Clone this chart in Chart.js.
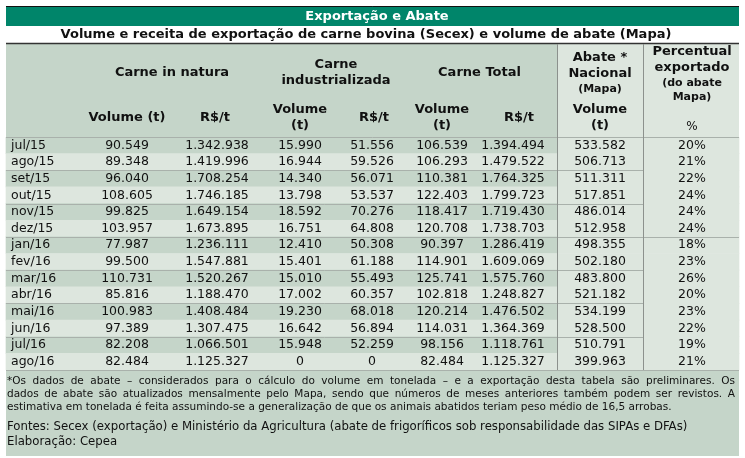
<!DOCTYPE html>
<html>
<head>
<meta charset="utf-8">
<script src="https://cdn.jsdelivr.net/npm/chart.js@4"></script>
<style>
  body { margin: 0; background: #fff; }
  #wrap { width: 745px; height: 458px; position: relative; }
</style>
</head>
<body>
<div id="wrap"><canvas id="tabela"></canvas></div>
<script>
// dados da tabela (Secex / Mapa)
const months = ["jul/15", "ago/15", "set/15", "out/15", "nov/15", "dez/15", "jan/16",
    "fev/16", "mar/16", "abr/16", "mai/16", "jun/16", "jul/16", "ago/16"];
const naturaVol = [90549, 89348, 96040, 108605, 99825, 103957, 77987, 99500, 110731, 85816, 100983, 97389, 82208, 82484];
const naturaRs = [1342938, 1419996, 1708254, 1746185, 1649154, 1673895, 1236111, 1547881, 1520267, 1188470, 1408484, 1307475, 1066501, 1125327];
const indVol = [15990, 16944, 14340, 13798, 18592, 16751, 12410, 15401, 15010, 17002, 19230, 16642, 15948, 0];
const indRs = [51556, 59526, 56071, 53537, 70276, 64808, 50308, 61188, 55493, 60357, 68018, 56894, 52259, 0];
const totalVol = [106539, 106293, 110381, 122403, 118417, 120708, 90397, 114901, 125741, 102818, 120214, 114031, 98156, 82484];
const totalRs = [1394494, 1479522, 1764325, 1799723, 1719430, 1738703, 1286419, 1609069, 1575760, 1248827, 1476502, 1364369, 1118761, 1125327];
const abateVol = [533582, 506713, 511311, 517851, 486014, 512958, 498355, 502180, 483800, 521182, 534199, 528500, 510791, 399963];
const pctExport = [20, 21, 22, 24, 24, 24, 18, 23, 26, 20, 23, 22, 19, 21];

const footNotes = [
    "*Os dados de abate \u2013 considerados para o cálculo do volume em tonelada \u2013 e a exportação desta tabela são preliminares. Os",
    "dados de abate são atualizados mensalmente pelo Mapa, sendo que números de meses anteriores também podem ser revistos.  A",
    "estimativa em tonelada é feita assumindo-se a generalização de que os animais abatidos teriam peso médio de 16,5 arrobas."
];
const sources = ["Fontes: Secex (exportação) e Ministério da Agricultura (abate de frigoríficos sob responsabilidade das SIPAs e DFAs)",
    "Elaboração: Cepea"];

// layout
const FONT = "'DejaVu Sans', Verdana, sans-serif";
const tableL = 6, tableR = 739, splitA = 557, splitB = 643;
const colX = [127, 217, 300, 372, 442, 513, 600, 692];
const dark = "#c5d5c9", light = "#dde6de", green = "#00856a";

function fmt(n) {
    return String(n).replace(/\B(?=(\d{3})+(?!\d))/g, ".");
}

function txt(ctx, s, x, y, font, color, align) {
    ctx.font = font;
    ctx.fillStyle = color || "#111";
    ctx.textAlign = align || "center";
    ctx.textBaseline = "middle";
    ctx.fillText(s, x, y);
}

// left-to-right justified line
function justify(ctx, s, x, y, width, font) {
    ctx.font = font;
    ctx.fillStyle = "#111";
    ctx.textAlign = "left";
    ctx.textBaseline = "middle";
    const words = s.split(/\s+/);
    const total = words.reduce((a, w) => a + ctx.measureText(w).width, 0);
    const gap = (width - total) / (words.length - 1);
    let px = x;
    words.forEach(w => {
        ctx.fillText(w, px, y);
        px += ctx.measureText(w).width + gap;
    });
}

function hline(ctx, x1, x2, y, color, w) {
    ctx.strokeStyle = color;
    ctx.lineWidth = w || 1;
    ctx.beginPath();
    ctx.moveTo(x1, y);
    ctx.lineTo(x2, y);
    ctx.stroke();
}

// font size that makes a line fill the given width
function fitFont(ctx, s, width, base) {
    ctx.font = base + "px " + FONT;
    const w = ctx.measureText(s).width;
    return (base * width / w).toFixed(2) + "px " + FONT;
}

const tablePlugin = {
    id: "tablePlugin",
    beforeDraw(chart) {
        const ctx = chart.ctx;
        ctx.save();
        ctx.fillStyle = "#fff";
        ctx.fillRect(0, 0, chart.width, chart.height);
        // title bar
        ctx.fillStyle = green;
        ctx.fillRect(tableL, 6, tableR - tableL, 20);
        hline(ctx, tableL, tableR, 6.5, "#111", 1);
        txt(ctx, "Exportação e Abate", 377, 16.5, "bold 13px " + FONT, "#fff");
        txt(ctx, "Volume e receita de exportação de carne bovina (Secex) e volume de abate (Mapa)", 366, 34.5, "bold 13px " + FONT, "#111");
        // header background
        const top = chart.chartArea.top;
        ctx.fillStyle = dark;
        ctx.fillRect(tableL, 43, splitA - tableL, top - 43);
        ctx.fillStyle = light;
        ctx.fillRect(splitA, 43, tableR - splitA, top - 43);
        // footer background
        const bottom = chart.chartArea.bottom;
        ctx.fillStyle = dark;
        ctx.fillRect(tableL, bottom, tableR - tableL, 456 - bottom);
        hline(ctx, tableL, tableR, 43.5, "#333", 1.5);
        ctx.restore();
    },
    afterDatasetsDraw(chart) {
        const ctx = chart.ctx;
        const x = chart.scales.x, y = chart.scales.y;
        const bottom = chart.chartArea.bottom;
        const band = y.getPixelForValue(1) - y.getPixelForValue(0);
        ctx.save();

        // separators between pairs of rows
        months.forEach((m, i) => {
            if (i % 2 === 0) {
                const yy = Math.round(y.getPixelForValue(i) - band / 2) + 0.5;
                hline(ctx, tableL, i === 0 || i === 6 ? tableR : splitB, yy, "#a9b1ab", 1);
            }
        });
        hline(ctx, tableL, tableR, Math.round(bottom) + 0.5, "#a9b1ab", 1);

        // vertical lines
        ctx.strokeStyle = "#8c918d";
        ctx.lineWidth = 1;
        [splitA, splitB].forEach(v => {
            const px = Math.round(x.getPixelForValue(v)) + 0.5;
            ctx.beginPath();
            ctx.moveTo(px, 44);
            ctx.lineTo(px, bottom);
            ctx.stroke();
        });

        // header
        const hb = "bold 13px " + FONT, hs = "bold 11px " + FONT;
        const cx = colX.map(v => x.getPixelForValue(v));
        txt(ctx, "Carne in natura", (cx[0] + cx[1]) / 2, 73, hb);
        txt(ctx, "Carne", (cx[2] + cx[3]) / 2, 65, hb);
        txt(ctx, "industrializada", (cx[2] + cx[3]) / 2, 81, hb);
        txt(ctx, "Carne Total", (cx[4] + cx[5]) / 2 + 2, 73, hb);
        txt(ctx, "Volume (t)", cx[0], 118, hb);
        txt(ctx, "R$/t", cx[1] - 2, 118, hb);
        txt(ctx, "Volume", cx[2], 110, hb);
        txt(ctx, "(t)", cx[2], 126, hb);
        txt(ctx, "R$/t", cx[3] + 2, 118, hb);
        txt(ctx, "Volume", cx[4], 110, hb);
        txt(ctx, "(t)", cx[4], 126, hb);
        txt(ctx, "R$/t", cx[5] + 6, 118, hb);
        txt(ctx, "Abate *", cx[6], 58, hb);
        txt(ctx, "Nacional", cx[6], 74, hb);
        txt(ctx, "(Mapa)", cx[6], 89, hs);
        txt(ctx, "Volume", cx[6], 110, hb);
        txt(ctx, "(t)", cx[6], 126, hb);
        txt(ctx, "Percentual", cx[7], 52, hb);
        txt(ctx, "exportado", cx[7], 68, hb);
        txt(ctx, "(do abate", cx[7], 83, hs);
        txt(ctx, "Mapa)", cx[7], 97, hs);
        txt(ctx, "%", cx[7], 127, "12px " + FONT);

        // body cells
        const cf = "12.5px " + FONT;
        const cols = [naturaVol, naturaRs, indVol, indRs, totalVol, totalRs, abateVol];
        months.forEach((m, i) => {
            const yy = y.getPixelForValue(i);
            txt(ctx, m, 11, yy, cf, "#111", "left");
            cols.forEach((arr, c) => txt(ctx, fmt(arr[i]), cx[c], yy, cf));
            txt(ctx, pctExport[i] + "%", cx[7], yy, cf);
        });

        // footnotes (justified paragraph, last line left)
        const nf = fitFont(ctx, footNotes[2], 665, 11);
        justify(ctx, footNotes[0], 7, bottom + 11, 728, nf);
        justify(ctx, footNotes[1], 7, bottom + 24.3, 728, nf);
        txt(ctx, footNotes[2], 7, bottom + 37.6, nf, "#111", "left");
        const sf = fitFont(ctx, sources[0], 681, 12);
        sources.forEach((s, i) => txt(ctx, s, 7, bottom + 57 + i * 15, sf, "#111", "left"));

        ctx.restore();
    }
};

const ctx = document.getElementById("tabela").getContext("2d");
const tabela = new Chart(ctx, {
    type: "bar",
    data: {
        labels: months,
        datasets: [{
            data: months.map(() => [tableL, splitA]),
            backgroundColor: months.map((m, i) => i % 2 === 0 ? dark : light),
            barPercentage: 1,
            categoryPercentage: 1,
            borderWidth: 0,
            grouped: false
        }, {
            data: months.map(() => [splitA, tableR]),
            backgroundColor: light,
            barPercentage: 1,
            categoryPercentage: 1,
            borderWidth: 0,
            grouped: false
        }]
    },
    options: {
        indexAxis: "y",
        responsive: true,
        maintainAspectRatio: false,
        animation: false,
        layout: { padding: { top: 137, bottom: 88, left: 0, right: 0 } },
        scales: {
            x: { type: "linear", min: 0, max: 745, display: false },
            y: { display: false }
        },
        plugins: {
            legend: { display: false },
            tooltip: { enabled: false }
        }
    },
    plugins: [tablePlugin]
});
</script>
</body>
</html>
